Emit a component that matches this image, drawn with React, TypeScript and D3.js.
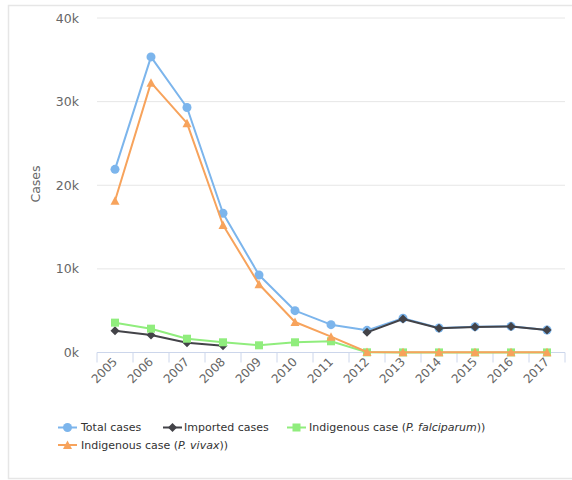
import React from "react";
import * as d3 from "d3";

// Malaria cases by year
const years: string[] = ["2005","2006","2007","2008","2009","2010","2011","2012","2013","2014","2015","2016","2017"];
const totalCases: (number | null)[] = [21900, 35350, 29300, 16650, 9270, 5000, 3330, 2650, 4090, 2930, 3090, 3130, 2690];
const importedCases: (number | null)[] = [2610, 2090, 1170, 810, null, null, null, 2410, 4000, 2900, 3050, 3100, 2680];
const falciparumCases: (number | null)[] = [3570, 2850, 1650, 1220, 860, 1220, 1340, 20, 10, 10, 10, 10, 10];
const vivaxCases: (number | null)[] = [18150, 32270, 27420, 15250, 8160, 3650, 1890, 60, 30, 20, 20, 20, 20];
const yTicks: number[] = [0, 10000, 20000, 30000, 40000];
const yTickLabels: string[] = ["0k", "10k", "20k", "30k", "40k"];

type Shape = "circle" | "diamond" | "square" | "triangle";
interface SeriesDef { key: string; values: (number | null)[]; color: string; shape: Shape; }

const series: SeriesDef[] = [
  { key: "total", values: totalCases, color: "#7cb5ec", shape: "circle" },
  { key: "imported", values: importedCases, color: "#434348", shape: "diamond" },
  { key: "falciparum", values: falciparumCases, color: "#90ed7d", shape: "square" },
  { key: "vivax", values: vivaxCases, color: "#f7a35c", shape: "triangle" },
];

const W = 572, H = 480;
const plot = { left: 97, right: 565, top: 18, bottom: 352.5 };
const FONT = "'DejaVu Sans', Verdana, sans-serif";

function Marker({ shape, x, y, color }: { shape: Shape; x: number; y: number; color: string }) {
  const r = 4;
  if (shape === "circle") return <circle cx={x} cy={y} r={r + 0.5} fill={color} />;
  if (shape === "square") return <rect x={x - r} y={y - r} width={2 * r} height={2 * r} fill={color} />;
  if (shape === "diamond")
    return <path d={`M${x},${y - r - 0.5}L${x + r + 0.5},${y}L${x},${y + r + 0.5}L${x - r - 0.5},${y}Z`} fill={color} />;
  return <path d={`M${x},${y - r - 0.5}L${x + r + 0.5},${y + r}L${x - r - 0.5},${y + r}Z`} fill={color} />;
}

export default function App() {
  const x = d3.scaleBand<string>().domain(years).range([plot.left, plot.right]).padding(0);
  const y = d3.scaleLinear().domain([0, 40000]).range([plot.bottom, plot.top]);
  const cx = (yr: string) => (x(yr) as number) + x.bandwidth() / 2;

  const line = d3
    .line<[string, number | null]>()
    .defined((d) => d[1] != null)
    .x((d) => cx(d[0]))
    .y((d) => y(d[1] as number));

  const boundaries = years.map((yr) => x(yr) as number).concat([plot.right]);

  const legendRow1 = 427.5;
  const legendRow2 = 445;
  const legendItems = [
    { s: series[0], sx: 58, tx: 81, ty: legendRow1, label: <>Total cases</> },
    { s: series[1], sx: 163, tx: 184, ty: legendRow1, label: <>Imported cases</> },
    {
      s: series[2], sx: 287, tx: 309, ty: legendRow1,
      label: <>Indigenous case (<tspan fontStyle="italic">P. falciparum</tspan>))</>,
    },
    {
      s: series[3], sx: 58, tx: 81, ty: legendRow2,
      label: <>Indigenous case (<tspan fontStyle="italic">P. vivax</tspan>))</>,
    },
  ];

  return (
    <svg width={W} height={H} style={{ position: "absolute", left: 0, top: 0, background: "#fff" }} fontFamily={FONT}>
      {/* container frame */}
      <path d={`M${W},5.5H8.5V478.5H${W}`} fill="none" stroke="#e6e6e6" strokeWidth={1.5} />

      {/* horizontal grid */}
      {yTicks.map((t) => (
        <line key={t} x1={plot.left} x2={plot.right} y1={y(t)} y2={y(t)} stroke="#e6e6e6" strokeWidth={1} />
      ))}

      {/* y labels */}
      {yTicks.map((t, i) => (
        <text key={t} x={79} y={y(t)} dy="0.36em" textAnchor="end" fontSize={12.5} fill="#666666">
          {yTickLabels[i]}
        </text>
      ))}
      <text transform={`translate(39.5,184) rotate(-90)`} textAnchor="middle" fontSize={12.5} fill="#666666">
        Cases
      </text>

      {/* x axis */}
      <line x1={plot.left} x2={plot.right} y1={plot.bottom} y2={plot.bottom} stroke="#ccd6eb" strokeWidth={1} />
      {boundaries.map((b, i) => (
        <line key={i} x1={b} x2={b} y1={plot.bottom} y2={plot.bottom + 10} stroke="#ccd6eb" strokeWidth={1} />
      ))}
      {years.map((yr) => (
        <text
          key={yr}
          transform={`translate(${cx(yr) + 3},${plot.bottom + 10}) rotate(-45)`}
          textAnchor="end"
          fontSize={12}
          fill="#666666"
        >
          {yr}
        </text>
      ))}

      {/* series */}
      {series.map((s) => {
        const pts = years.map((yr, i) => [yr, s.values[i]] as [string, number | null]);
        return (
          <g key={s.key}>
            <path d={line(pts) || ""} fill="none" stroke={s.color} strokeWidth={2} strokeLinejoin="round" strokeLinecap="round" />
            {pts
              .filter((p) => p[1] != null)
              .map((p) => (
                <Marker key={p[0]} shape={s.shape} x={cx(p[0])} y={y(p[1] as number)} color={s.color} />
              ))}
          </g>
        );
      })}

      {/* legend */}
      {legendItems.map((it, i) => (
        <g key={i}>
          <line x1={it.sx} x2={it.sx + 19} y1={it.ty} y2={it.ty} stroke={it.s.color} strokeWidth={2} />
          <Marker shape={it.s.shape} x={it.sx + 9.5} y={it.ty} color={it.s.color} />
          <text x={it.tx} y={it.ty} dy="0.36em" fontSize={11} fill="#333333">
            {it.label}
          </text>
        </g>
      ))}
    </svg>
  );
}
